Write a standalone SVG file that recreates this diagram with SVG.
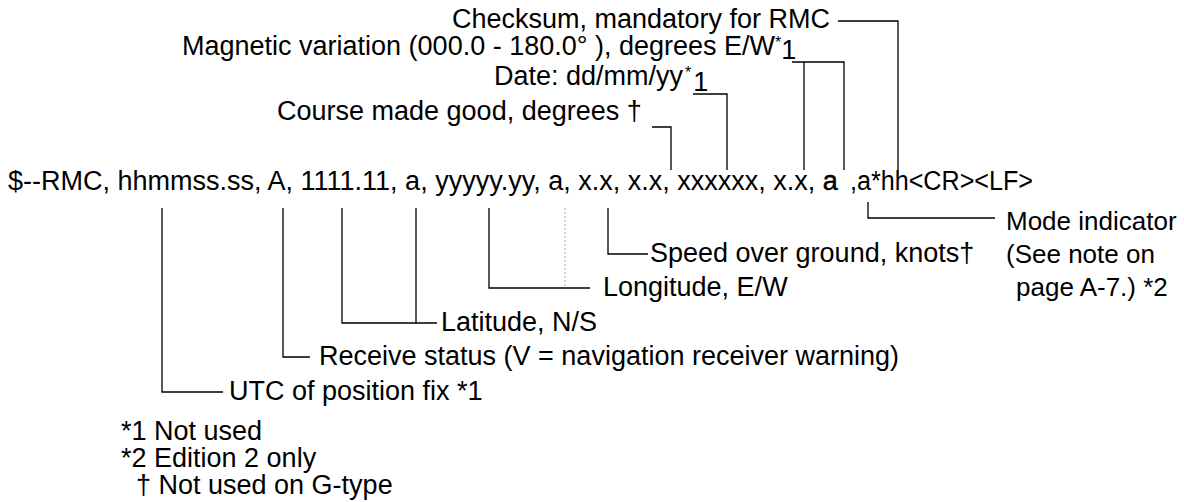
<svg xmlns="http://www.w3.org/2000/svg" width="1184" height="502" viewBox="0 0 1184 502">
<style>
text{font-family:"Liberation Sans",Arial,Helvetica,sans-serif;font-size:27px;fill:#000}
.sup{font-size:16px}
.mode{font-size:26px}
.c{fill:none;stroke:#000;stroke-width:1.3}
.faint{fill:none;stroke:#bbb;stroke-width:1.2;stroke-dasharray:2 2}
</style>
<rect width="1184" height="502" fill="#fff"/>
<g id="connectors">
<path class="c" d="M838,21H898V170"/>
<path class="c" d="M792,62H844V170M804,62V170"/>
<path class="c" d="M693,94H727V170"/>
<path class="c" d="M652,127H671V170"/>
<path class="c" d="M162,208V392H223"/>
<path class="c" d="M283,208V357H310"/>
<path class="c" d="M342,208V323H437M416,208V323"/>
<path class="c" d="M489,208V288H590"/>
<path class="faint" d="M565,208V288"/>
<path class="c" d="M608,208V254H648"/>
<path class="c" d="M868,202V218H995"/>
</g>
<g id="sentence"><text x="8" y="190">$--RMC, hhmmss.ss, A, 1111.11, a, yyyyy.yy, a, x.x, x.x, xxxxxx, x.x, <tspan stroke="#000" stroke-width="0.5">a</tspan></text><text x="850" y="190" textLength="183" lengthAdjust="spacingAndGlyphs">,a*hh&lt;CR&gt;&lt;LF&gt;</text></g>
<g id="checksum"><text x="452" y="28">Checksum, mandatory for RMC</text></g>
<g id="magvar"><text x="182" y="55">Magnetic variation (000.0 - 180.0° ), degrees E/W<tspan class="sup" dy="-7">*</tspan><tspan dy="11">1</tspan></text></g>
<g id="date"><text x="494" y="85">Date: dd/mm/yy<tspan class="sup" dx="2" dy="-7">*</tspan><tspan dx="2" dy="13">1</tspan></text></g>
<g id="course"><text x="277" y="120">Course made good, degrees †</text></g>
<g id="mode"><text class="mode" x="1006" y="230">Mode indicator</text><text class="mode" x="1006" y="263">(See note on</text><text class="mode" x="1016" y="296">page A-7.) *2</text></g>
<g id="speed"><text x="650" y="262">Speed over ground, knots†</text></g>
<g id="longitude"><text x="603" y="296">Longitude, E/W</text></g>
<g id="latitude"><text x="441" y="331">Latitude, N/S</text></g>
<g id="status"><text x="319" y="365">Receive status (V = navigation receiver warning)</text></g>
<g id="utc"><text x="229" y="400">UTC of position fix *1</text></g>
<g id="notes"><text x="121" y="440">*1 Not used</text><text x="121" y="467">*2 Edition 2 only</text><text x="136" y="494">† Not used on G-type</text></g>
</svg>
